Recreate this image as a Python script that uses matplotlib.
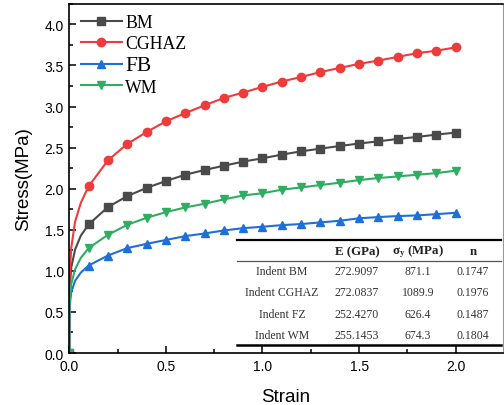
import numpy as np
import matplotlib.pyplot as plt
from matplotlib.ticker import MultipleLocator
from matplotlib.lines import Line2D

plt.rcParams['mathtext.fontset'] = 'stix'

# marker positions (strain) and stress
strain = [0.0, 0.1, 0.2, 0.3, 0.4, 0.5, 0.6, 0.7, 0.8, 0.9, 1.0,
          1.1, 1.2, 1.3, 1.4, 1.5, 1.6, 1.7, 1.8, 1.9, 2.0]
bm = [0.0, 1.565, 1.777, 1.91, 2.01, 2.094, 2.17, 2.228, 2.28, 2.33, 2.37,
      2.415, 2.455, 2.488, 2.52, 2.55, 2.577, 2.606, 2.63, 2.659, 2.683]
cghaz = [0.0, 2.03, 2.345, 2.545, 2.69, 2.82, 2.92, 3.015, 3.105, 3.17, 3.24,
         3.305, 3.36, 3.42, 3.47, 3.52, 3.56, 3.605, 3.65, 3.68, 3.72]
fb = [0.0, 1.065, 1.187, 1.277, 1.329, 1.376, 1.423, 1.455, 1.492, 1.52, 1.537,
      1.557, 1.57, 1.59, 1.61, 1.64, 1.655, 1.667, 1.675, 1.69, 1.707]
wm = [0.0, 1.277, 1.439, 1.561, 1.646, 1.715, 1.772, 1.817, 1.87, 1.918, 1.945,
      1.988, 2.016, 2.045, 2.073, 2.105, 2.13, 2.15, 2.17, 2.19, 2.22]

# extra points near the origin where the curves shoot up (estimated)
strain_near0 = [0.0005, 0.002, 0.01, 0.03, 0.06]
bm_near0 = [0.61, 0.78, 1.04, 1.26, 1.43]
cghaz_near0 = [0.70, 0.93, 1.28, 1.60, 1.83]
fb_near0 = [0.47, 0.58, 0.74, 0.88, 0.98]
wm_near0 = [0.48, 0.62, 0.84, 1.02, 1.16]

# inset table
tbl_header = ['', 'E (GPa)', 'σ$_\\mathbf{y}$ (MPa)', 'n']
tbl_rows = [['Indent BM', '272.9097', '871.1', '0.1747'],
            ['Indent CGHAZ', '272.0837', '1089.9', '0.1976'],
            ['Indent FZ', '252.4270', '626.4', '0.1487'],
            ['Indent WM', '255.1453', '674.3', '0.1804']]

series = [('BM', bm, bm_near0, '#4a4a4a', 's'),
          ('CGHAZ', cghaz, cghaz_near0, '#ee3b3b', 'o'),
          ('FB', fb, fb_near0, '#1f6fd8', '^'),
          ('WM', wm, wm_near0, '#2fae62', 'v')]

fig = plt.figure(figsize=(5.04, 4.06), dpi=100)
ax = fig.add_axes([0.1375, 0.128, 0.8605, 0.86])

for name, y, y0, c, m in series:
    xs = [strain[0]] + strain_near0 + strain[1:]
    ys = [y[0]] + y0 + y[1:]
    ax.plot(xs, ys, '-', color=c, lw=1.5)
    ax.plot(strain, y, m, color=c, ms=6, ls='none')

handles = [Line2D([], [], color=c, marker=m, lw=1.5, ms=6) for _, _, _, c, m in series]
leg = ax.legend(handles, [s[0] for s in series], loc='upper left',
                bbox_to_anchor=(-0.01, 1.017), frameon=False,
                prop={'family': 'Liberation Serif', 'size': 12.8},
                handlelength=2.3, handletextpad=0.2, labelspacing=0.22)
leg.get_texts()[2].set_fontsize(15.5)

ax.set_xlim(0, 2.245)
ax.set_ylim(0, 4.25)
ax.xaxis.set_major_locator(MultipleLocator(0.5))
ax.xaxis.set_minor_locator(MultipleLocator(0.25))
ax.yaxis.set_major_locator(MultipleLocator(0.5))
ax.yaxis.set_minor_locator(MultipleLocator(0.25))
ax.tick_params(which='both', direction='in', top=False, right=False,
               labelsize=10, pad=4, width=1.1)
ax.tick_params(which='major', length=5)
ax.tick_params(which='minor', length=3)
for lab in ax.get_xticklabels() + ax.get_yticklabels():
    lab.set_family('Liberation Sans')
for sp in ['left', 'bottom', 'top']:
    ax.spines[sp].set_linewidth(1.2)
ax.spines['right'].set_color('#999999')
ax.set_xlabel('Strain', family='Liberation Sans', fontsize=13.5, labelpad=11)
ax.set_ylabel('Stress(MPa)', family='Liberation Sans', fontsize=13.5, labelpad=9)

# table drawn in figure pixels
W, H = 504.0, 406.0
def fx(px):
    return px / W
def fy(py):
    return 1 - py / H

col_x = [282, 357, 418, 473]
row_y = [272.5, 293.5, 315, 336]
for px, txt in zip(col_x, tbl_header):
    fig.text(fx(px), fy(252), txt, ha='center', va='center', family='Liberation Serif',
             fontsize=9.3, fontweight='bold', color='#222222')
for py, row in zip(row_y, tbl_rows):
    for px, txt in zip(col_x, row):
        fig.text(fx(px), fy(py), txt, ha='center', va='center', family='Liberation Serif',
                 fontsize=8.5, color='#333333')
x0, x1 = fx(237), fx(501)
fig.add_artist(Line2D([x0, x1], [fy(240.5), fy(240.5)], color='black', lw=1.6))
fig.add_artist(Line2D([x0, x1], [fy(261.5), fy(261.5)], color='#555555', lw=0.9))
fig.add_artist(Line2D([x0, x1], [fy(345.5), fy(345.5)], color='black', lw=1.8))

fig.savefig('out.png', dpi=100)
